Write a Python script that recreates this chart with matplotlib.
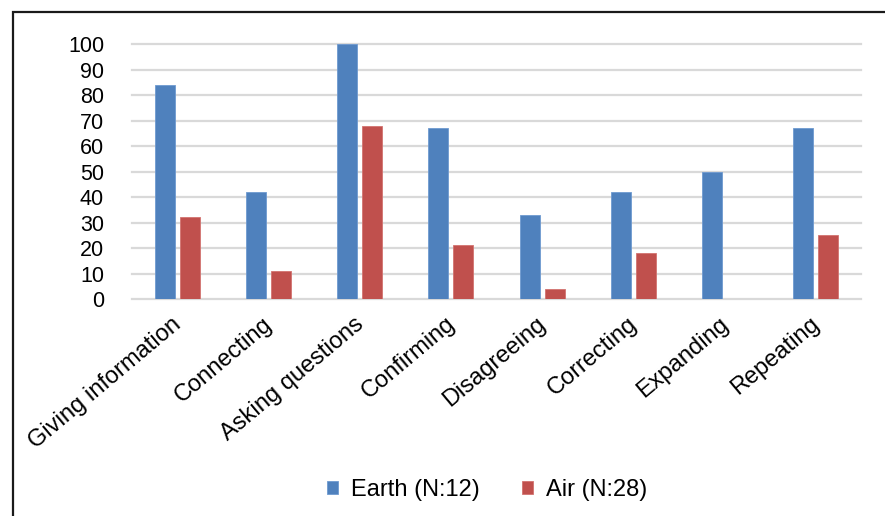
import numpy as np
import matplotlib
matplotlib.use('Agg')
import matplotlib.pyplot as plt
import matplotlib.transforms as mtrans
from matplotlib.patches import Rectangle

categories = ['Giving information', 'Connecting', 'Asking questions', 'Confirming',
              'Disagreeing', 'Correcting', 'Expanding', 'Repeating']
earth = [84, 42, 100, 67, 33, 42, 50, 67]
air = [32, 11, 68, 21, 4, 18, 0, 25]
series_names = ['Earth (N:12)', 'Air (N:28)']

plt.rcParams['font.family'] = ['Liberation Sans', 'DejaVu Sans']

fig = plt.figure(figsize=(8.85, 5.16), dpi=100)
ax = fig.add_axes([0.149, 0.4205, 0.824, 0.494])

x = np.arange(len(categories))
w = 0.22
off = 0.137
ax.bar(x - off, earth, w, color='#4F81BD', edgecolor='#6E9AD0', linewidth=0.6,
       label=series_names[0], zorder=3)
ax.bar(x + off, air, w, color='#C0504D', edgecolor='#D27370', linewidth=0.6,
       label=series_names[1], zorder=3)

ax.set_xlim(-0.5, len(categories) - 0.5)
ax.set_ylim(0, 100)
ax.set_yticks(np.arange(0, 101, 10))
ax.yaxis.grid(True, color='#D9D9D9', linewidth=1.6, zorder=0)
for gl in ax.get_ygridlines():
    gl.set_clip_on(False)
for s in ax.spines.values():
    s.set_visible(False)
ax.tick_params(axis='both', length=0, colors='black')
ax.tick_params(axis='y', pad=20, labelsize=15.5)
ax.set_xticks(x)
ax.set_xticklabels(categories, rotation=40, ha='right', va='top',
                   rotation_mode='anchor', fontsize=17)
ax.tick_params(axis='x', pad=10)
shift = mtrans.ScaledTranslation(-6 / 100, 0, fig.dpi_scale_trans)
for lbl in ax.get_xticklabels():
    lbl.set_transform(lbl.get_transform() + shift)

ax.legend(loc='center', bbox_to_anchor=(487 / 885, 1 - 490 / 516),
          bbox_transform=fig.transFigure, ncol=2, frameon=False,
          fontsize=17, handlelength=0.45, handleheight=0.45,
          columnspacing=1.8, handletextpad=0.55, borderaxespad=0, borderpad=0)

# outer border (cut off at right and bottom in the original)
fig.add_artist(Rectangle((13 / 885, -0.2), 1.2, 1 - 12 / 516 + 0.2,
                         transform=fig.transFigure, fill=False,
                         edgecolor='#1a1a1a', linewidth=1.6))

fig.savefig('out.png', dpi=100)
